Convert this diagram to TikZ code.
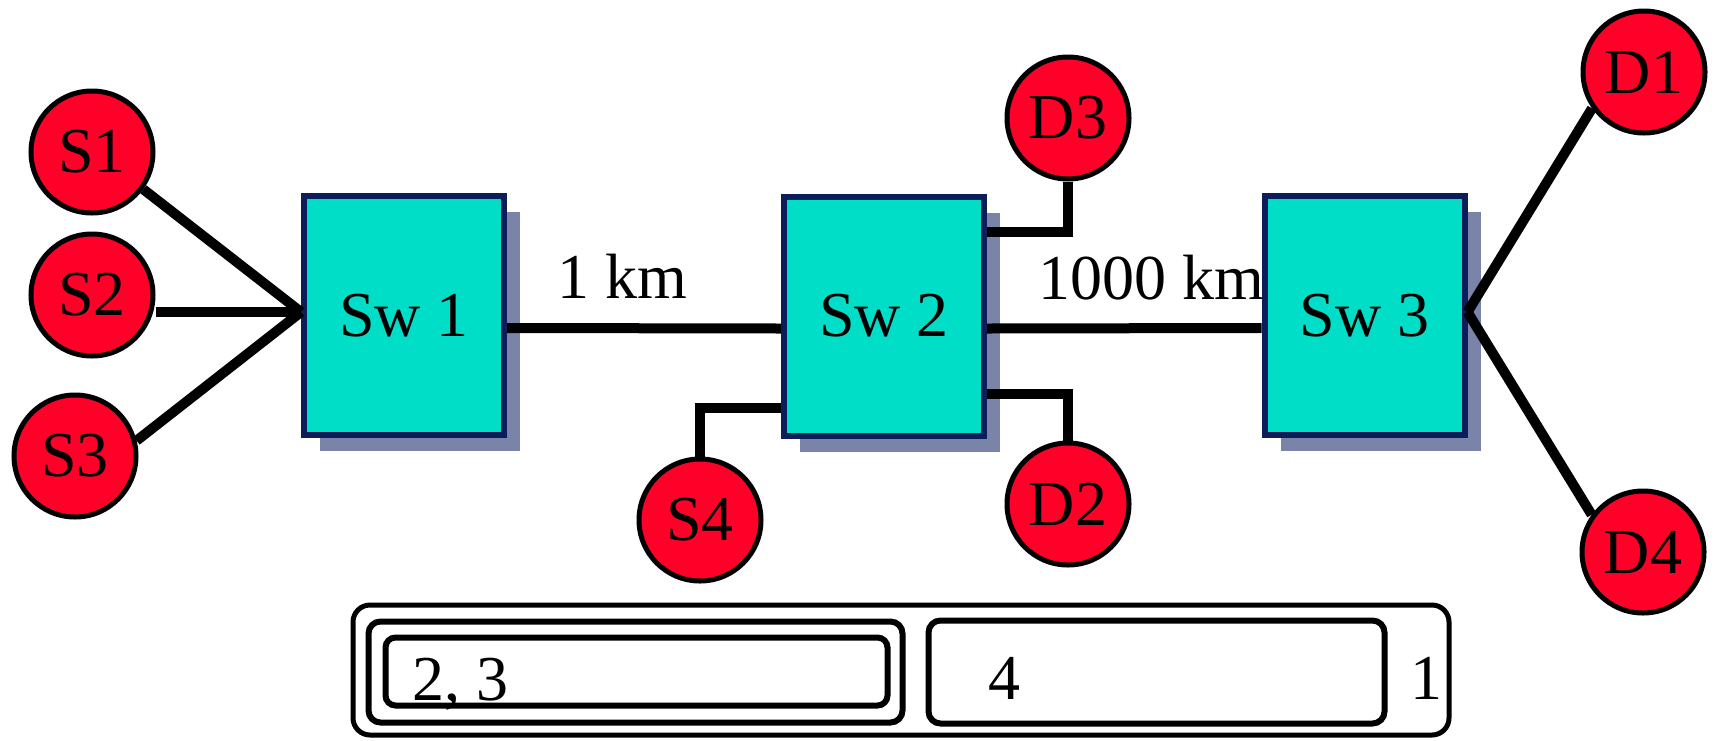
\documentclass[tikz,border=0pt]{standalone}
\usepackage{fontspec}
\setmainfont{Liberation Serif}
\usetikzlibrary{shadows}
\definecolor{swfill}{RGB}{0,222,200}
\definecolor{swline}{RGB}{12,30,90}
\definecolor{swshade}{RGB}{122,132,168}
\definecolor{hostred}{RGB}{255,0,40}
\tikzset{switch/.style={draw=swline, line width=6pt, fill=swfill,
        minimum width=200pt, minimum height=239pt, inner sep=0pt,
        drop shadow={shadow xshift=16pt, shadow yshift=-16pt, fill=swshade, opacity=1}},
    host/.style={circle, draw, line width=5pt, fill=hostred,
        minimum size=122pt, inner sep=0pt},
    link/.style={line width=10pt},
    flowbox/.style={draw, line width=6pt, inner sep=0pt},
    }

\begin{document}
\begin{tikzpicture}[x=1pt, y=-1pt, every node/.style={font=\fontsize{64}{70}\selectfont}]
\useasboundingbox (0,0) rectangle (1716,740);
% switches
\node[switch] (sw1) at (404,315.5) {Sw 1};
\node[switch] (sw2) at (884,316) {Sw 2};
\node[switch] (sw3) at (1364.5,315.5) {Sw 3};
% hosts
\node[host] (s1) at (92,152) {S1};
\node[host] (s2) at (92,295) {S2};
\node[host] (s3) at (75,456) {S3};
\node[host] (s4) at (700,520) {S4};
\node[host] (d1) at (1644,72) {D1};
\node[host] (d2) at (1068,504) {D2};
\node[host] (d3) at (1068,118) {D3};
\node[host] (d4) at (1643,552) {D4};
\coordinate (in1) at ([yshift=3.5pt]sw1.west);
\coordinate (out3) at ([yshift=3.5pt]sw3.east);
% links
\draw[link] (s1.-36) -- (in1);
\draw[link] (s2.east |- in1) -- (in1);
\draw[link] (s3.14) -- (in1);
\draw[link] ([yshift=-12.5pt]sw1.east) -- ([yshift=-12.5pt]sw2.west);
\draw[link] ([yshift=-12.5pt]sw2.east) -- ([yshift=-12.5pt]sw3.west);
\draw[link] ([yshift=-91.5pt]sw2.west) -| (s4);
\draw[link] ([yshift=84pt]sw2.east) -| (d3);
\draw[link] ([yshift=-77.5pt]sw2.east) -| (d2);
\draw[link] (d1.215) -- (out3);
\draw[link] (d4.144) -- (out3);
\node[anchor=base] (short) at (622,298) {1 km};
\node[anchor=base] (long) at (1151,299) {1000 km};
% flows
\node[flowbox, line width=5pt, rounded corners=17pt, minimum width=1096pt, minimum height=130pt] (all) at (901,670) {};
\node[flowbox, rounded corners=12pt, minimum width=534pt, minimum height=101pt] (outer23) at (635.5,672) {};
\node[flowbox, rounded corners=10pt, minimum width=502pt, minimum height=68pt] (inner23) at (636.5,671.5) {};
\node[flowbox, rounded corners=12pt, minimum width=456pt, minimum height=103pt] (box4) at (1156.5,672) {};
\node[anchor=base west, inner sep=0pt] (f23) at (412,700) {2, 3};
\node[anchor=base west, inner sep=0pt] (f4) at (988,699) {4};
\node[anchor=base west, inner sep=0pt] (f1) at (1410,699) {1};
\end{tikzpicture}
\end{document}
